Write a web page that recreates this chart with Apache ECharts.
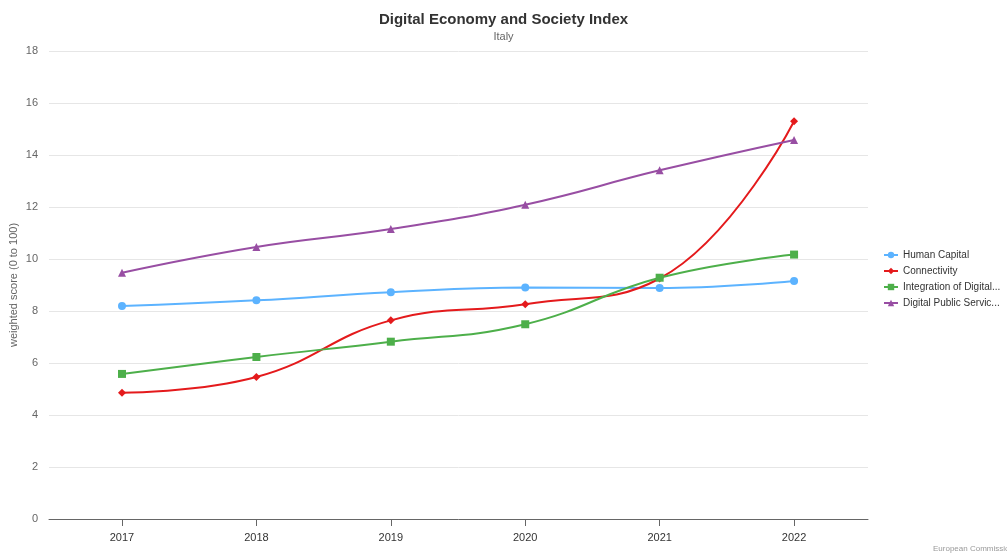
<!DOCTYPE html>
<html>
<head>
<meta charset="utf-8">
<script src="https://cdn.jsdelivr.net/npm/echarts@6/dist/echarts.min.js"></script>
<style>
  html, body { margin: 0; padding: 0; background: #fff; }
  #chart { width: 1007px; height: 554px; }
</style>
</head>
<body>
<div id="chart"></div>
<script>
// DESI sub-dimension scores for Italy
const years = [2017, 2018, 2019, 2020, 2021, 2022];
const humanCapital = [8.19, 8.41, 8.72, 8.90, 8.88, 9.15];
const connectivity = [4.86, 5.46, 7.64, 8.26, 9.25, 15.30];
const integrationDigital = [5.58, 6.23, 6.82, 7.49, 9.28, 10.17];
const digitalPublicServices = [9.47, 10.46, 11.15, 12.09, 13.41, 14.58];
const yTicks = [0, 2, 4, 6, 8, 10, 12, 14, 16, 18];

const seriesNames = [
  'Human Capital',
  'Connectivity',
  'Integration of Digital Technology',
  'Digital Public Services'
];
// shortened legend entries
const legendLabels = [
  'Human Capital',
  'Connectivity',
  'Integration of Digital...',
  'Digital Public Servic...'
];

function pairs(values) {
  return years.map((y, i) => [y, values[i]]);
}

const chart = echarts.init(document.getElementById('chart'), null, { renderer: 'canvas' });

const font = 'Helvetica, Arial, "Liberation Sans", sans-serif';

function lineSeries(name, values, color, symbol, size) {
  return {
    name: name,
    type: 'line',
    data: pairs(values),
    smooth: 0.45,
    symbol: symbol,
    symbolSize: size,
    showAllSymbol: true,
    lineStyle: { color: color, width: 2 },
    itemStyle: { color: color },
    emphasis: { disabled: true }
  };
}

chart.setOption({
  animation: false,
  backgroundColor: '#ffffff',
  textStyle: { fontFamily: font },
  title: {
    text: 'Digital Economy and Society Index',
    subtext: 'Italy',
    left: 'center',
    top: 7,
    itemGap: 4,
    textStyle: { fontSize: 15, fontWeight: 'bold', color: '#333333', fontFamily: font },
    subtextStyle: { fontSize: 11, color: '#666666', fontFamily: font }
  },
  legend: {
    orient: 'vertical',
    left: 878,
    top: 245,
    itemGap: 6,
    itemWidth: 14,
    itemHeight: 8,
    data: seriesNames,
    formatter: name => legendLabels[seriesNames.indexOf(name)],
    textStyle: {
      fontSize: 10,
      color: '#333333'
    }
  },
  grid: {
    left: 49,
    right: 139,
    top: 51,
    bottom: 35,
    containLabel: false,
    outerBoundsMode: 'none'
  },
  xAxis: {
    type: 'value',
    min: 2016.457,
    max: 2022.55,
    axisLine: { show: true, lineStyle: { color: '#666666', width: 1 } },
    axisTick: {
      show: true,
      length: 7,
      customValues: years,
      lineStyle: { color: '#666666' }
    },
    axisLabel: {
      customValues: years,
      color: '#333333',
      fontSize: 11,
      margin: 13,
      formatter: v => String(Math.round(v))
    },
    splitLine: { show: false }
  },
  yAxis: {
    type: 'value',
    min: 0,
    max: 18,
    interval: 2,
    name: 'weighted score (0 to 100)',
    nameLocation: 'middle',
    nameRotate: 90,
    nameGap: 30,
    nameMoveOverlap: false,
    nameTextStyle: { color: '#666666', fontSize: 11 },
    axisLine: { show: false },
    axisTick: { show: false },
    axisLabel: {
      color: '#666666',
      fontSize: 11,
      margin: 11,
      formatter: v => yTicks.includes(v) ? String(v) : ''
    },
    splitLine: { lineStyle: { color: '#e6e6e6', width: 1 } }
  },
  graphic: [
    {
      type: 'text',
      left: 933,
      top: 545,
      style: {
        text: 'European Commission',
        fill: '#999999',
        fontSize: 8,
        fontFamily: font
      }
    }
  ],
  series: [
    lineSeries(seriesNames[0], humanCapital, '#5cb3ff', 'circle', 8),
    lineSeries(seriesNames[1], connectivity, '#e41a1c', 'diamond', 8),
    lineSeries(seriesNames[2], integrationDigital, '#4daf4a', 'rect', 8),
    lineSeries(seriesNames[3], digitalPublicServices, '#984ea3', 'triangle', 8)
  ]
});
</script>
</body>
</html>
